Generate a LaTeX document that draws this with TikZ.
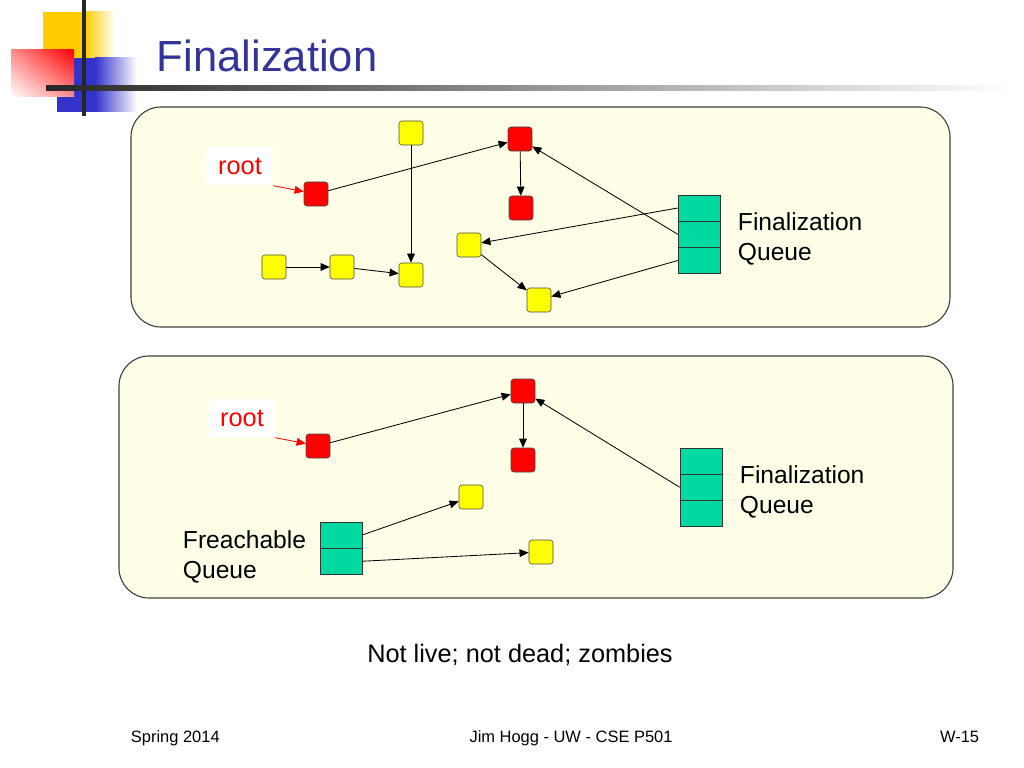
\documentclass[tikz,border=0pt]{standalone}
\usepackage{fontspec}
\setmainfont{Liberation Sans}
\definecolor{slideblue}{RGB}{51,51,153}
\definecolor{gcred}{RGB}{255,0,0}
\definecolor{gcyellow}{RGB}{255,255,0}
\definecolor{gcgreen}{RGB}{0,217,160}
\definecolor{panelfill}{RGB}{255,255,232}
\definecolor{decoyellow}{RGB}{255,204,0}
\definecolor{decoblue}{RGB}{51,51,204}
\usetikzlibrary{arrows.meta,positioning,shadings}

\begin{document}
\begin{tikzpicture}[x=0.025cm,y=-0.025cm,
  obj/.style={draw=black!70, rounded corners=2pt, minimum width=0.6cm, minimum height=0.6cm, inner sep=0pt},
  live/.style={obj, fill=gcred},
  dead/.style={obj, fill=gcyellow},
  cell/.style={draw=black!80, fill=gcgreen, minimum width=1.05cm, minimum height=0.642cm, inner sep=0pt},
  ptr/.style={-{Triangle[length=6.5pt,width=5.5pt]}, black, line width=0.6pt},
  rootptr/.style={-{Triangle[length=6.5pt,width=5.5pt]}, gcred, line width=0.6pt},
  panel/.style={draw=black!75, fill=panelfill, rounded corners=0.75cm, line width=0.8pt},
  lbl/.style={font=\fontsize{17.5}{21.3}\selectfont, align=left, anchor=base west},
  rootlbl/.style={fill=white, text=gcred, font=\fontsize{18}{21.3}\selectfont, minimum width=1.65cm, minimum height=0.97cm}]
  \useasboundingbox (0,0) rectangle (1024,768);

  % Title decoration
  \fill[decoyellow] (43,12) rectangle (86,58);
  \shade[left color=decoyellow, right color=white] (85,12) rectangle (115,58);
  \fill[decoblue] (57,58) rectangle (96,112);
  \shade[left color=decoblue, right color=white] (95,58) rectangle (137,112);
  \shade[upper right=gcred, upper left=gcred!45!white, lower right=gcred!45!white, lower left=white] (11,50) rectangle (74,97);
  \draw[line width=2.6pt, black!85] (84,0) -- (84,116);
  \shade[left color=black!85, middle color=black!45, right color=white] (46,86) rectangle (1010,91);
  \node[anchor=base west, text=slideblue, font=\fontsize{31}{36}\selectfont] (title) at (152,72) {Finalization};

  % Before: finalization queue
  \draw[panel] (131,107) rectangle (950,327);
  \node[rootlbl] (rootA) at (240,166) {root};
  \node[live] (a1) at (316,194) {};
  \node[dead] (a2) at (411,133) {};
  \node[live] (a3) at (520,139) {};
  \node[live] (a4) at (521,208) {};
  \node[dead] (a5) at (274,267) {};
  \node[dead] (a6) at (342,267) {};
  \node[dead] (a7) at (411,275) {};
  \node[dead] (a8) at (469,245) {};
  \node[dead] (a9) at (539,300) {};
  \node[cell] (fa1) at (699,208) {};
  \node[cell, below=0pt of fa1] (fa2) {};
  \node[cell, below=0pt of fa2] (fa3) {};
  \node[lbl] (fqA) at (733,260) {Finalization\\Queue};

  \draw[rootptr] (rootA.south east) -- (a1);
  \draw[ptr] (a1) -- (a3);
  \draw[ptr] (a2) -- (a7);
  \draw[ptr] (a3) -- (a4);
  \draw[ptr] (a5) -- (a6);
  \draw[ptr] (a6) -- (a7);
  \draw[ptr] (a8) -- (a9);
  \draw[ptr] (fa1.west) -- (a8);
  \draw[ptr] (fa2.west) -- (a3);
  \draw[ptr] (fa3.west) -- (a9);

  % After: freachable queue
  \draw[panel] (119,356) rectangle (953,598);
  \node[rootlbl] (rootB) at (242,418) {root};
  \node[live] (b1) at (318,446) {};
  \node[live] (b3) at (523,391) {};
  \node[live] (b4) at (523,460) {};
  \node[dead] (b8) at (471,497) {};
  \node[dead] (b9) at (541,552) {};
  \node[cell] (fb1) at (701,461) {};
  \node[cell, below=0pt of fb1] (fb2) {};
  \node[cell, below=0pt of fb2] (fb3) {};
  \node[lbl] (fqB) at (735,513) {Finalization\\Queue};
  \node[cell] (rq1) at (341,535) {};
  \node[cell, below=0pt of rq1] (rq2) {};
  \node[lbl] (rqB) at (178,578) {Freachable\\Queue};

  \draw[rootptr] (rootB.south east) -- (b1);
  \draw[ptr] (b1) -- (b3);
  \draw[ptr] (b3) -- (b4);
  \draw[ptr] (fb2.west) -- (b3);
  \draw[ptr] (rq1.east) -- (b8);
  \draw[ptr] (rq2.east) -- (b9);

  \node[anchor=base, font=\fontsize{18}{21.3}\selectfont] (note) at (520,662) {Not live; not dead; zombies};

  % Footer
  \node[anchor=base west, font=\fontsize{11.7}{14}\selectfont] (foot1) at (126,742) {Spring 2014};
  \node[anchor=base, font=\fontsize{11.7}{14}\selectfont] (foot2) at (571,742) {Jim Hogg - UW - CSE P501};
  \node[anchor=base east, font=\fontsize{11.7}{14}\selectfont] (foot3) at (984,742) {W-15};
\end{tikzpicture}
\end{document}
